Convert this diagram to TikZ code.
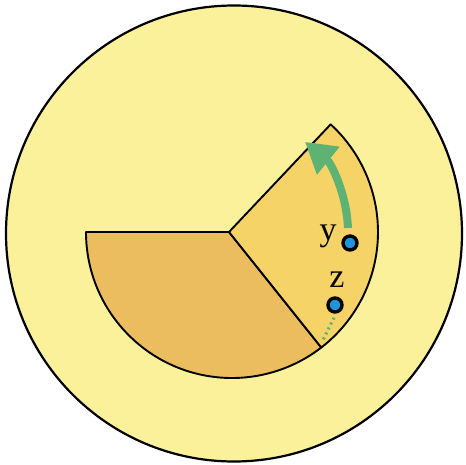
\documentclass[tikz,border=0pt]{standalone}
\usepackage{fontspec}
\setmainfont{Liberation Serif}
\usetikzlibrary{arrows.meta,calc}
\definecolor{bigfill}{RGB}{251,241,155}
\definecolor{leftfill}{RGB}{236,189,94}
\definecolor{rightfill}{RGB}{246,211,102}
\definecolor{arrgreen}{RGB}{94,178,116}
\definecolor{dotblue}{RGB}{30,150,220}
\tikzset{
  outline/.style={draw=black,line width=1.9pt,line join=round},
  dotnode/.style={circle,fill=dotblue,draw=black,line width=3.4pt,minimum size=14pt,inner sep=0pt},
  lbl/.style={font=\fontsize{34}{36}\selectfont,inner sep=0pt},
  greenarrow/.style={draw=arrgreen,line width=8pt,-{Triangle[length=30pt,width=34pt]}},
  greendots/.style={draw=arrgreen,line width=3pt,dash pattern=on 2pt off 3.5pt}
}
\begin{document}
\begin{tikzpicture}[x=1pt,y=1pt]
\useasboundingbox (0,0) rectangle (466,464);
% big circle
\draw[fill=bigfill,line width=2.2pt] (234,230.5) circle[radius=228];
% sectors
\coordinate (V) at (229,232);
\coordinate (O) at (232,232);
\path[outline,fill=leftfill] (V) -- ($(O)+(180:146)$) arc[start angle=180,end angle=307.7,radius=146] -- cycle;
\path[outline,fill=rightfill] (V) -- ($(O)+(-52.3:146)$) arc[start angle=-52.3,end angle=47.5,radius=146] -- cycle;
% green arrow
\coordinate (as) at ($(O)+(2:116)$);
\draw[greenarrow] (as) arc[start angle=2,end angle=51,radius=116];
% dots and labels
\node[dotnode] (ydot) at (350,221) {};
\node[dotnode] (zdot) at (335,159) {};
\node[lbl] (ylab) at (328,228) {y};
\node[lbl] (zlab) at (337,184) {z};
\coordinate (zend) at (322,122);
\draw[greendots] (zdot.south) ++(-1,-4) -- (zend);
\end{tikzpicture}
\end{document}
